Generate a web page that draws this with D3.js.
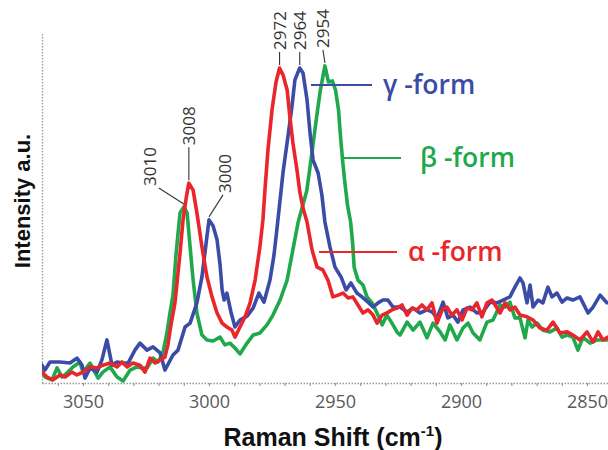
<!DOCTYPE html>
<html>
<head>
<meta charset="utf-8">
<script src="https://cdn.jsdelivr.net/npm/d3@7"></script>
<style>
  html, body { margin: 0; padding: 0; background: #fff; }
  svg { display: block; }
</style>
</head>
<body>
<svg id="chart" width="608" height="450"></svg>
<script>
// Raman spectra of the three crystal forms, C–H stretching region
const shiftTicks = [3050, 3000, 2950, 2900, 2850];
const formNames = ["γ -form", "β -form", "α -form"];
const peakLabelText = ["3010", "3008", "3000", "2972", "2964", "2954"];
const peakLabelForm = ["beta", "alpha", "gamma", "alpha", "gamma", "beta"];

// [Raman shift (cm-1), intensity (a.u.)]
const gammaForm = [
  [3067.1,6.0],[3065.1,3.7],[3063.1,6.0],[3059.1,6.0],[3055.2,5.7],[3052.4,7.1],[3050.4,5.1],[3049.2,1.4],
  [3047.2,4.3],[3044.4,3.1],[3042.5,6.6],[3040.5,12.3],[3038.5,5.1],[3036.5,6.0],[3034.1,5.7],[3032.1,5.7],
  [3029.4,9.4],[3027.4,11.4],[3024.6,9.4],[3022.2,10.3],[3019.4,8.6],[3017.5,3.7],[3014.3,8.0],[3012.3,9.4],
  [3009.5,16.0],[3007.5,17.1],[3004.8,22.9],[3002.8,30.3],[3000.0,46.6],[2998.4,44.9],[2996.8,40.9],[2995.6,33.7],
  [2994.8,26.6],[2994.0,23.7],[2992.9,25.7],[2991.3,20.3],[2989.7,16.0],[2987.7,18.0],[2984.9,19.1],[2982.5,21.4],
  [2980.2,25.7],[2978.2,23.1],[2975.8,29.4],[2974.2,36.6],[2973.0,44.3],[2971.8,52.3],[2970.6,60.3],[2968.7,70.3],
  [2967.1,78.9],[2965.9,86.6],[2964.0,90.0],[2962.7,88.6],[2961.1,80.9],[2959.9,71.4],[2958.7,63.7],[2956.7,60.0],
  [2955.2,53.7],[2954.0,46.0],[2952.0,38.9],[2950.0,33.1],[2947.6,30.3],[2945.6,26.6],[2943.7,28.6],[2941.3,25.7],
  [2939.3,24.6],[2936.9,23.1],[2934.9,21.7],[2932.9,22.9],[2931.0,23.7],[2929.0,23.7],[2927.0,21.7],[2924.2,21.7],
  [2921.4,20.3],[2919.0,21.4],[2916.3,20.0],[2913.5,20.9],[2911.5,20.3],[2909.5,18.6],[2907.1,23.1],[2905.2,18.6],
  [2903.2,19.4],[2901.2,17.4],[2899.2,20.9],[2896.4,21.7],[2893.7,20.0],[2891.3,20.3],[2888.5,23.1],[2885.7,22.9],
  [2883.3,23.7],[2880.6,24.6],[2878.6,27.4],[2876.6,30.0],[2875.4,28.6],[2873.8,22.9],[2872.6,28.0],[2871.4,21.7],
  [2869.4,23.7],[2867.5,22.9],[2865.5,27.4],[2863.9,24.6],[2861.9,25.7],[2859.9,23.1],[2857.9,24.3],[2855.6,23.7],
  [2852.8,24.6],[2849.6,20.0],[2847.6,21.7],[2844.8,25.1],[2842.1,22.9]
];

const betaForm = [
  [3067.1,4.6],[3065.1,1.7],[3062.3,0.9],[3060.3,4.3],[3058.3,1.7],[3056.3,2.9],[3054.0,4.6],[3051.2,6.0],
  [3050.0,3.1],[3047.2,5.7],[3044.0,1.4],[3042.1,3.1],[3039.3,4.6],[3036.5,1.7],[3034.1,0.6],[3031.3,3.7],
  [3028.6,4.6],[3026.6,4.3],[3024.6,4.3],[3022.2,7.1],[3020.2,6.0],[3018.3,8.6],[3016.7,14.3],[3015.5,20.0],
  [3014.3,25.1],[3013.1,36.6],[3011.5,48.6],[3010.0,50.3],[3008.7,48.6],[3007.5,38.9],[3006.3,29.4],[3004.8,20.0],
  [3002.8,13.7],[3000.8,12.3],[2998.4,12.0],[2995.6,13.1],[2993.7,10.9],[2991.7,11.4],[2989.7,10.0],[2987.7,8.3],
  [2984.9,11.4],[2982.5,13.7],[2979.8,14.3],[2977.0,16.6],[2974.6,19.4],[2971.8,23.7],[2969.0,29.4],[2967.1,36.6],
  [2964.6,46.0],[2961.2,54.9],[2959.0,66.6],[2957.3,76.0],[2955.8,83.7],[2954.0,90.6],[2952.6,86.0],[2951.0,86.3],
  [2949.8,83.7],[2948.6,78.0],[2947.8,70.3],[2947.0,63.7],[2946.2,58.0],[2945.0,50.6],[2943.8,46.0],[2943.0,40.0],
  [2942.4,33.1],[2940.9,29.4],[2938.9,28.0],[2937.3,24.6],[2935.3,22.9],[2933.3,20.0],[2931.3,16.6],[2929.4,19.4],
  [2927.4,17.1],[2925.4,14.6],[2924.2,13.7],[2921.4,17.4],[2919.0,15.1],[2916.3,17.4],[2913.5,12.9],[2911.1,17.1],
  [2908.3,14.6],[2906.3,12.3],[2904.4,16.6],[2901.6,12.3],[2899.2,15.7],[2897.2,17.1],[2895.2,14.3],[2892.5,12.3],
  [2889.7,17.4],[2887.3,18.0],[2884.5,22.3],[2882.5,21.7],[2880.6,23.1],[2878.6,18.6],[2876.6,18.6],[2874.6,12.9],
  [2873.4,18.0],[2871.8,16.0],[2869.8,17.1],[2867.5,15.1],[2864.7,14.6],[2861.9,15.7],[2859.9,13.1],[2857.9,13.7],
  [2855.6,13.1],[2853.6,9.4],[2851.6,13.1],[2848.8,11.4],[2846.0,12.3],[2842.1,12.3]
];

const alphaForm = [
  [3067.1,3.7],[3064.3,1.7],[3061.9,0.9],[3059.1,2.3],[3057.1,1.7],[3054.4,3.1],[3052.4,2.3],[3050.0,3.1],
  [3047.2,4.6],[3044.4,4.3],[3042.1,5.1],[3039.3,5.7],[3036.5,4.6],[3034.5,6.0],[3032.5,4.6],[3030.2,5.7],
  [3027.4,5.1],[3025.4,3.1],[3023.4,7.1],[3021.4,5.7],[3019.4,6.6],[3017.5,7.4],[3016.3,10.9],[3015.1,16.6],
  [3013.5,22.9],[3011.5,37.1],[3010.3,46.6],[3009.0,53.1],[3008.0,57.1],[3006.3,55.1],[3004.8,48.6],[3002.8,38.9],
  [3000.8,30.3],[2998.8,24.6],[2996.8,20.0],[2994.8,17.1],[2992.9,16.0],[2990.9,15.1],[2989.7,13.1],[2987.7,16.0],
  [2985.7,18.9],[2983.7,22.9],[2981.7,29.4],[2979.8,38.9],[2978.6,46.6],[2977.8,55.1],[2976.6,66.6],[2975.0,78.0],
  [2973.4,86.0],[2972.0,90.0],[2970.6,88.0],[2969.0,83.7],[2967.9,76.0],[2966.7,68.6],[2965.1,60.9],[2963.9,54.3],
  [2962.7,50.0],[2961.1,46.0],[2959.1,38.0],[2957.1,33.1],[2954.8,32.3],[2952.8,29.4],[2950.8,24.6],[2948.8,25.1],
  [2946.8,25.7],[2944.8,24.3],[2942.9,24.6],[2940.9,22.3],[2938.9,20.0],[2936.9,20.9],[2934.9,19.4],[2933.3,17.1],
  [2931.3,19.4],[2929.4,20.0],[2927.4,20.9],[2925.4,21.4],[2923.4,22.3],[2921.4,19.4],[2919.4,21.4],[2917.5,20.9],
  [2915.5,22.3],[2913.5,20.9],[2911.5,22.9],[2909.5,17.1],[2907.5,20.9],[2905.6,21.7],[2903.6,19.4],[2901.6,20.9],
  [2899.6,18.0],[2897.6,21.4],[2895.6,20.9],[2893.7,22.9],[2891.7,18.9],[2889.7,22.9],[2887.7,23.7],[2884.5,20.0],
  [2882.5,22.9],[2880.6,20.9],[2878.6,21.7],[2876.6,19.4],[2873.8,18.9],[2871.4,18.0],[2868.7,15.7],[2865.9,15.1],
  [2863.5,17.4],[2860.7,14.3],[2857.9,14.6],[2855.6,13.7],[2852.8,12.3],[2850.0,14.6],[2847.6,11.7],[2845.6,14.6],
  [2843.7,12.3],[2841.7,13.1]
];

const forms = {
  gamma: { data: gammaForm, color: "#3a4ca5" },
  beta:  { data: betaForm,  color: "#1fa84c" },
  alpha: { data: alphaForm, color: "#e8262b" }
};

// ---- layout ----
const plot = { left: 42, right: 608, top: 33, bottom: 383 };
const svg = d3.select("#chart");

const x = d3.scaleLinear().domain([3050, 2850]).range([83, 587]);
const y = d3.scaleLinear().domain([0, 100]).range([plot.bottom, plot.top]);
const xFull = x.copy().domain([x.invert(plot.left), x.invert(plot.right)]).range([plot.left, plot.right]);

// axes (light dotted lines with small ticks)
const axisColor = "#9a9a9a";
const xMinor = d3.range(2850, 3070, 10).filter(v => xFull(v) >= plot.left && xFull(v) <= plot.right);
const gx = svg.append("g").attr("transform", `translate(0,${plot.bottom})`)
  .call(d3.axisBottom(xFull).tickValues(xMinor).tickSize(3).tickSizeOuter(0).tickFormat(""));
gx.select(".domain").attr("stroke", axisColor).attr("stroke-width", 1.3).attr("stroke-dasharray", "1.5 1.5");
gx.selectAll(".tick line").attr("stroke", axisColor).attr("stroke-width", 1.2);

const gxl = svg.append("g").attr("transform", `translate(0,${plot.bottom})`)
  .call(d3.axisBottom(x).tickValues(shiftTicks).tickSize(0).tickPadding(12).tickFormat(d3.format("d")));
gxl.select(".domain").remove();
gxl.selectAll("text")
  .attr("font-family", "'Open Sans', sans-serif")
  .attr("font-size", 18)
  .attr("fill", "#595959");

const gy = svg.append("g").attr("transform", `translate(${plot.left},0)`)
  .call(d3.axisLeft(y).tickValues([]).tickSizeOuter(0));
gy.select(".domain").attr("stroke", axisColor).attr("stroke-width", 1.3).attr("stroke-dasharray", "1.5 1.5");

// axis titles
const xTitle = svg.append("text")
  .attr("x", 333).attr("y", 446)
  .attr("text-anchor", "middle")
  .attr("font-family", "'Liberation Sans', Arial, sans-serif")
  .attr("font-weight", "bold")
  .attr("font-size", 25)
  .attr("fill", "#111");
xTitle.append("tspan").text("Raman Shift (cm");
xTitle.append("tspan").attr("font-size", 15).attr("dy", -10).text("-1");
xTitle.append("tspan").attr("dy", 10).text(")");

svg.append("text")
  .attr("transform", "translate(30,201) rotate(-90)")
  .attr("text-anchor", "middle")
  .attr("font-family", "'Liberation Sans', Arial, sans-serif")
  .attr("font-weight", "bold")
  .attr("font-size", 22)
  .attr("fill", "#111")
  .text("Intensity a.u.");

// spectra
svg.append("clipPath").attr("id", "plot-clip")
  .append("rect").attr("x", plot.left).attr("y", 0).attr("width", plot.right - plot.left).attr("height", plot.bottom + 4);

const line = d3.line().x(d => x(d[0])).y(d => y(d[1]));
const gLines = svg.append("g").attr("clip-path", "url(#plot-clip)");
["beta", "gamma", "alpha"].forEach(k => {
  gLines.append("path")
    .datum(forms[k].data)
    .attr("d", line)
    .attr("fill", "none")
    .attr("stroke", forms[k].color)
    .attr("stroke-width", 3.6)
    .attr("stroke-linejoin", "round")
    .attr("stroke-linecap", "round");
});

// peak annotations: leader offset (dx, dy) from the peak, then rotated value text
const peakLeader = [[-25, -16], [0, -33], [14, -22], [0, -13], [0, -13], [-2, -13]];
const peakTextShift = [-9, 0, 2, 0, 0, 0];
const gAnn = svg.append("g");
peakLabelText.forEach((t, i) => {
  const shift = +t;
  const pt = forms[peakLabelForm[i]].data.find(d => d[0] === shift);
  const px = x(pt[0]), py = y(pt[1]) - 3;
  const ex = px + peakLeader[i][0], ey = py + peakLeader[i][1];
  gAnn.append("line")
    .attr("x1", px).attr("y1", py).attr("x2", ex).attr("y2", ey)
    .attr("stroke", "#333").attr("stroke-width", 1.1);
  gAnn.append("text")
    .attr("transform", `translate(${ex + peakTextShift[i] + 6},${ey - 2}) rotate(-90)`)
    .attr("font-family", "'Open Sans', sans-serif")
    .attr("font-size", 17)
    .attr("fill", "#333")
    .text(t);
});

// in-plot series labels
const legendLayout = [
  { key: "gamma", x1: 311, x2: 372, ly: 85, tx: 383, ty: 94 },
  { key: "beta",  x1: 342, x2: 401, ly: 158, tx: 420, ty: 167 },
  { key: "alpha", x1: 319, x2: 397, ly: 252, tx: 408, ty: 261 }
];
legendLayout.forEach((l, i) => {
  svg.append("line")
    .attr("x1", l.x1).attr("x2", l.x2).attr("y1", l.ly).attr("y2", l.ly)
    .attr("stroke", forms[l.key].color).attr("stroke-width", 2.2);
  svg.append("text")
    .attr("x", l.tx).attr("y", l.ty)
    .attr("font-family", "'Open Sans', sans-serif")
    .attr("font-weight", 600)
    .attr("font-size", 26.5)
    .attr("fill", forms[l.key].color)
    .text(formNames[i]);
});
</script>
</body>
</html>
